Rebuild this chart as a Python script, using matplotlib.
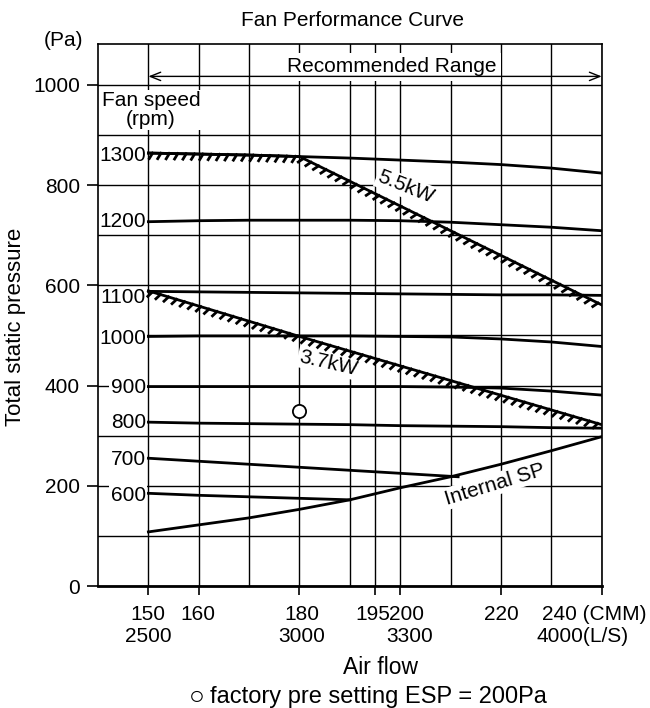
import matplotlib
matplotlib.use('Agg')
from matplotlib import pyplot as plt
from matplotlib import patheffects as pe

plt.rcParams['font.family'] = ['Liberation Sans', 'DejaVu Sans']
plt.rcParams['font.size'] = 15

# fan curves: air flow (CMM) -> total static pressure (Pa)
flow = [150, 160, 170, 180, 190, 200, 210, 220, 230, 240]
p1300 = [864, 862, 860, 857, 854, 850, 846, 841, 834, 824]
p1200 = [727, 729, 730, 730, 730, 729, 726, 721, 716, 709]
p1100 = [588, 587, 586, 585, 584, 583, 582, 581, 581, 580]
p1000 = [498, 499, 499, 499, 499, 498, 497, 493, 487, 478]
p900 = [398, 398, 398, 398, 398, 398, 397, 395, 389, 381]
p800 = [327, 325, 324, 323, 322, 320, 319, 318, 316, 315]
flow700 = [150, 211.5]
p700 = [255, 218]
flow600 = [150, 160, 170, 180, 190]
p600 = [185, 181, 178, 175, 172]

# internal static pressure of the unit
flow_isp = [150, 160, 170, 180, 190, 195, 200, 210, 220, 230, 240]
p_isp = [108, 122, 136, 153, 172, 184, 196, 218, 243, 270, 298]

# motor power limits
flow55 = [150, 160, 170, 180, 240]
p55 = [864, 862, 860, 857, 561]
flow37 = [150, 180, 240]
p37 = [589, 498, 322]

rpm_labels = ['1300', '1200', '1100', '1000', '900', '800', '700', '600']
rpm_label_y = [860, 727, 575, 493, 397, 327, 253, 180]

# factory setting point
setting_flow = [180]
setting_p = [349]

xtick_pos = [150, 160, 180, 195, 200, 220, 240]
xgrid_minor = [170, 190, 210, 230]
ytick_pos = [0, 200, 400, 600, 800, 1000]
ygrid_minor = [100, 300, 500, 700, 900]

cmm_text = ['150', '160', '180', '195', '200', '220', '240 (CMM)']
cmm_x = [149.8, 159.9, 180.4, 194.5, 201.3, 220.0, 238.6]
ls_text = ['2500', '3000', '3300', '4000(L/S)']
ls_x = [149.9, 180.4, 201.9, 236.2]

fig = plt.figure(figsize=(6.5, 7.08), dpi=100)
ax = fig.add_axes([0.1508, 0.1723, 0.7749, 0.7651])
ax.set_xlim(140, 240)
ax.set_ylim(0, 1081)

ax.set_xticks(xtick_pos)
ax.set_xticklabels([''] * len(xtick_pos))
ax.set_xticks(xgrid_minor, minor=True)
ax.set_yticks(ytick_pos)
ax.set_yticks(ygrid_minor, minor=True)
ax.tick_params(axis='x', which='major', length=6.5, width=1.2, direction='out')
ax.tick_params(axis='y', which='major', length=8, width=1.2, direction='out', pad=5)
ax.tick_params(which='minor', length=0)
ax.grid(which='both', color='k', lw=1)
ax.set_axisbelow(True)
for s in ['left', 'top', 'right']:
    ax.spines[s].set_linewidth(1.2)
ax.spines['bottom'].set_linewidth(2)

white = dict(facecolor='white', edgecolor='none', pad=1)

# fan speed curves
for yy in [p1300, p1200, p1100, p1000, p900, p800]:
    ax.plot(flow, yy, color='k', lw=2, zorder=3)
ax.plot(flow700, p700, color='k', lw=2, zorder=3)
ax.plot(flow600, p600, color='k', lw=2, zorder=3)
ax.plot(flow_isp, p_isp, color='k', lw=2, zorder=3)

hatch = [pe.withTickedStroke(angle=-120, spacing=6, length=0.75, linewidth=2)]
ax.plot(flow55, p55, color='k', lw=2, zorder=3, path_effects=hatch)
ax.plot(flow37, p37, color='k', lw=2, zorder=3, path_effects=hatch)

ax.plot(setting_flow, setting_p, 'o', mfc='white', mec='k', ms=9.5, mew=1.3, zorder=5)

for lab, yy in zip(rpm_labels, rpm_label_y):
    ax.text(149.5, yy, lab, ha='right', va='center', bbox=white, zorder=2.5)
ax.text(150.5, 950, 'Fan speed\n(rpm)', ha='center', va='center', linespacing=1.0,
        bbox=white, zorder=2.5)

ax.text(201.1, 796, '5.5kW', rotation=-22, ha='center', va='center', bbox=white, zorder=2.5)
ax.text(185.7, 445, '3.7kW', rotation=-13, ha='center', va='center', bbox=white, zorder=2.5)
ax.text(218.8, 203, 'Internal SP', rotation=17, ha='center', va='center', bbox=white, zorder=2.5)

ax.annotate('', xy=(150, 1017), xytext=(240, 1017),
            arrowprops=dict(arrowstyle='<->,head_length=0.5,head_width=0.2', lw=1,
                            color='k', shrinkA=0, shrinkB=0, mutation_scale=15))
ax.text(198.4, 1036, 'Recommended Range', ha='center', va='center',
        bbox=dict(facecolor='white', edgecolor='none', pad=3), zorder=2.5)

xt = ax.get_xaxis_transform()
for lab, xx in zip(cmm_text, cmm_x):
    ax.text(xx, -0.0535, lab, transform=xt, ha='center', va='center', clip_on=False)
for lab, xx in zip(ls_text, ls_x):
    ax.text(xx, -0.0923, lab, transform=xt, ha='center', va='center', clip_on=False)

ax.set_ylabel('Total static pressure', fontsize=16)
ax.yaxis.set_label_coords(-0.143, 0.479)
ax.text(133.05, 1088, '(Pa)', ha='center', va='center', clip_on=False)

fig.text(352.5 / 650, 1 - 20 / 708, 'Fan Performance Curve', ha='center', va='center')
fig.text(380.5 / 650, 1 - 668 / 708, 'Air flow', ha='center', va='center', fontsize=16.5)
fig.text(197 / 650, 1 - 697 / 708, '\u25cb', ha='center', va='center', fontsize=19)
fig.text(210 / 650, 1 - 697 / 708, 'factory pre setting ESP = 200Pa',
         ha='left', va='center', fontsize=17)

fig.savefig('out.png', dpi=100)
